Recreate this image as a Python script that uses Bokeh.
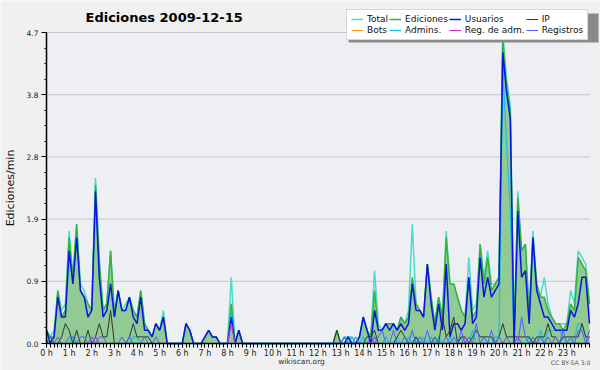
from bokeh.plotting import figure
from bokeh.models import (FixedTicker, PrintfTickFormatter, Legend, LegendItem,
                          Label, ColumnDataSource, BoxAnnotation)
from bokeh.embed import file_html
from bokeh.resources import INLINE

# time stamps (minutes since 0h), one every 10 minutes
minutes = [m for m in range(0, 1441, 10)]

# edits per minute (6 values per hour)
total = [
    0.2, 0.1, 0.2, 0.8, 0.5, 0.6,
    1.7, 1.0, 1.8, 0.9, 0.8, 0.6,
    0.5, 2.5, 1.3, 0.5, 0.6, 1.4,
    0.5, 0.8, 0.5, 0.6, 0.7, 0.5,
    0.4, 0.8, 0.3, 0.2, 0.1, 0.3,
    0.2, 0.5, 0.0, 0.0, 0.0, 0.0,
    0.0, 0.3, 0.2, 0.0, 0.0, 0.0,
    0.1, 0.2, 0.1, 0.1, 0.0, 0.0,
    0.0, 1.0, 0.0, 0.2, 0.0, 0.0,
    0.0, 0.0, 0.0, 0.0, 0.0, 0.0,
    0.0, 0.0, 0.0, 0.0, 0.0, 0.0,
    0.0, 0.0, 0.0, 0.0, 0.0, 0.0,
    0.0, 0.0, 0.0, 0.0, 0.0, 0.2,
    0.0, 0.1, 0.1, 0.1, 0.0, 0.1,
    0.4, 0.2, 0.1, 1.1, 0.3, 0.2,
    0.3, 0.3, 0.3, 0.2, 0.4, 0.3,
    0.5, 1.8, 0.6, 0.5, 0.4, 1.2,
    0.7, 0.3, 0.7, 0.4, 1.7, 0.9,
    0.9, 0.7, 0.5, 0.4, 1.3, 0.5,
    0.6, 1.5, 1.0, 1.4, 0.9, 0.9,
    1.0, 4.7, 4.0, 3.6, 0.1, 2.3,
    1.4, 1.5, 0.5, 1.7, 0.9, 0.7,
    1.0, 0.6, 0.4, 0.3, 0.3, 0.3,
    0.3, 0.8, 0.6, 1.4, 1.3, 1.2,
    0.6]

ediciones = [
    0.2, 0.1, 0.1, 0.8, 0.4, 0.5,
    1.6, 1.0, 1.8, 0.8, 0.7, 0.6,
    0.5, 2.4, 1.2, 0.5, 0.6, 1.4,
    0.4, 0.8, 0.5, 0.5, 0.7, 0.5,
    0.4, 0.8, 0.3, 0.2, 0.1, 0.3,
    0.2, 0.4, 0.0, 0.0, 0.0, 0.0,
    0.0, 0.3, 0.2, 0.0, 0.0, 0.0,
    0.1, 0.2, 0.1, 0.1, 0.0, 0.0,
    0.0, 0.6, 0.0, 0.2, 0.0, 0.0,
    0.0, 0.0, 0.0, 0.0, 0.0, 0.0,
    0.0, 0.0, 0.0, 0.0, 0.0, 0.0,
    0.0, 0.0, 0.0, 0.0, 0.0, 0.0,
    0.0, 0.0, 0.0, 0.0, 0.0, 0.2,
    0.0, 0.0, 0.1, 0.0, 0.0, 0.1,
    0.4, 0.2, 0.1, 0.8, 0.2, 0.2,
    0.3, 0.3, 0.3, 0.2, 0.4, 0.3,
    0.4, 1.0, 0.6, 0.5, 0.4, 1.2,
    0.7, 0.3, 0.7, 0.4, 1.6, 0.9,
    0.9, 0.7, 0.5, 0.4, 1.0, 0.4,
    0.5, 1.5, 0.9, 1.3, 0.8, 0.9,
    1.0, 4.6, 3.9, 3.5, 0.1, 2.2,
    1.4, 1.5, 0.4, 1.6, 0.9, 0.7,
    0.7, 0.5, 0.4, 0.3, 0.3, 0.2,
    0.3, 0.6, 0.5, 1.3, 1.2, 1.1,
    0.6]

usuarios = [
    0.2, 0.0, 0.1, 0.7, 0.4, 0.4,
    1.4, 0.9, 1.6, 0.8, 0.7, 0.4,
    0.5, 2.3, 1.0, 0.4, 0.5, 0.9,
    0.4, 0.8, 0.5, 0.5, 0.7, 0.4,
    0.3, 0.7, 0.2, 0.2, 0.1, 0.3,
    0.2, 0.4, 0.0, 0.0, 0.0, 0.0,
    0.0, 0.3, 0.2, 0.0, 0.0, 0.0,
    0.1, 0.2, 0.1, 0.1, 0.0, 0.0,
    0.0, 0.4, 0.0, 0.2, 0.0, 0.0,
    0.0, 0.0, 0.0, 0.0, 0.0, 0.0,
    0.0, 0.0, 0.0, 0.0, 0.0, 0.0,
    0.0, 0.0, 0.0, 0.0, 0.0, 0.0,
    0.0, 0.0, 0.0, 0.0, 0.0, 0.0,
    0.0, 0.0, 0.1, 0.0, 0.0, 0.1,
    0.4, 0.2, 0.0, 0.5, 0.2, 0.2,
    0.3, 0.2, 0.3, 0.2, 0.3, 0.2,
    0.3, 0.9, 0.5, 0.5, 0.4, 1.2,
    0.6, 0.2, 0.6, 0.2, 1.2, 0.1,
    0.3, 0.3, 0.2, 0.3, 1.0, 0.3,
    0.4, 1.3, 0.7, 1.0, 0.7, 0.8,
    0.9, 4.4, 3.8, 3.4, 0.0, 2.0,
    1.0, 1.1, 0.3, 1.6, 0.8, 0.6,
    0.4, 0.4, 0.3, 0.2, 0.2, 0.2,
    0.2, 0.5, 0.4, 0.6, 1.0, 1.0,
    0.3]

ip = [
    0.0, 0.1, 0.0, 0.0, 0.1, 0.3,
    0.2, 0.0, 0.2, 0.0, 0.0, 0.2,
    0.0, 0.1, 0.3, 0.1, 0.1, 0.5,
    0.0, 0.0, 0.0, 0.0, 0.1, 0.3,
    0.1, 0.1, 0.1, 0.1, 0.0, 0.0,
    0.0, 0.0, 0.0, 0.0, 0.0, 0.0,
    0.0, 0.0, 0.0, 0.0, 0.0, 0.0,
    0.0, 0.0, 0.0, 0.0, 0.0, 0.0,
    0.0, 0.0, 0.0, 0.0, 0.0, 0.0,
    0.0, 0.0, 0.0, 0.0, 0.0, 0.0,
    0.0, 0.0, 0.0, 0.0, 0.0, 0.0,
    0.0, 0.0, 0.0, 0.0, 0.0, 0.0,
    0.0, 0.0, 0.0, 0.0, 0.0, 0.2,
    0.0, 0.0, 0.0, 0.0, 0.0, 0.0,
    0.0, 0.1, 0.1, 0.2, 0.0, 0.0,
    0.0, 0.0, 0.0, 0.1, 0.2, 0.1,
    0.0, 0.0, 0.1, 0.0, 0.0, 0.0,
    0.0, 0.1, 0.0, 0.4, 0.1, 0.2,
    0.4, 0.0, 0.1, 0.1, 0.0, 0.1,
    0.2, 0.1, 0.1, 0.1, 0.1, 0.0,
    0.1, 0.3, 0.1, 0.1, 0.1, 0.1,
    0.1, 0.1, 0.1, 0.0, 0.1, 0.1,
    0.1, 0.3, 0.1, 0.1, 0.0, 0.1,
    0.1, 0.1, 0.1, 0.1, 0.3, 0.1,
    0.1]

bots = [
    0.0, 0.0, 0.0, 0.0, 0.0, 0.0,
    0.0, 0.0, 0.0, 0.0, 0.0, 0.0,
    0.0, 0.0, 0.0, 0.0, 0.0, 0.0,
    0.0, 0.0, 0.0, 0.0, 0.0, 0.0,
    0.0, 0.0, 0.0, 0.0, 0.0, 0.0,
    0.0, 0.0, 0.0, 0.0, 0.0, 0.0,
    0.0, 0.0, 0.0, 0.0, 0.0, 0.0,
    0.0, 0.0, 0.0, 0.0, 0.0, 0.0,
    0.0, 0.0, 0.0, 0.0, 0.0, 0.0,
    0.0, 0.0, 0.0, 0.0, 0.0, 0.0,
    0.0, 0.0, 0.0, 0.0, 0.0, 0.0,
    0.0, 0.0, 0.0, 0.0, 0.0, 0.0,
    0.0, 0.0, 0.0, 0.0, 0.0, 0.0,
    0.0, 0.0, 0.0, 0.0, 0.0, 0.0,
    0.0, 0.0, 0.0, 0.0, 0.0, 0.0,
    0.0, 0.0, 0.0, 0.0, 0.0, 0.0,
    0.0, 0.0, 0.0, 0.0, 0.0, 0.0,
    0.0, 0.0, 0.0, 0.0, 0.0, 0.0,
    0.0, 0.0, 0.0, 0.0, 0.0, 0.0,
    0.0, 0.0, 0.0, 0.0, 0.0, 0.0,
    0.0, 0.0, 0.0, 0.0, 0.0, 0.0,
    0.0, 0.0, 0.0, 0.0, 0.0, 0.0,
    0.0, 0.0, 0.0, 0.0, 0.0, 0.0,
    0.0, 0.0, 0.0, 0.0, 0.0, 0.0,
    0.0]

admins = [
    0.0, 0.0, 0.0, 0.0, 0.0, 0.0,
    0.0, 0.1, 0.0, 0.0, 0.0, 0.0,
    0.0, 0.1, 0.0, 0.0, 0.0, 0.0,
    0.0, 0.0, 0.0, 0.0, 0.0, 0.1,
    0.1, 0.0, 0.0, 0.0, 0.0, 0.0,
    0.0, 0.0, 0.0, 0.0, 0.0, 0.0,
    0.0, 0.0, 0.0, 0.0, 0.0, 0.0,
    0.0, 0.0, 0.0, 0.0, 0.0, 0.0,
    0.0, 0.5, 0.0, 0.0, 0.0, 0.0,
    0.0, 0.0, 0.0, 0.0, 0.0, 0.0,
    0.0, 0.0, 0.0, 0.0, 0.0, 0.0,
    0.0, 0.0, 0.0, 0.0, 0.0, 0.0,
    0.0, 0.0, 0.0, 0.0, 0.0, 0.0,
    0.0, 0.1, 0.0, 0.1, 0.0, 0.0,
    0.1, 0.0, 0.0, 0.1, 0.0, 0.0,
    0.1, 0.0, 0.0, 0.1, 0.0, 0.0,
    0.1, 0.0, 0.1, 0.0, 0.1, 0.0,
    0.1, 0.0, 0.1, 0.0, 0.0, 0.1,
    0.0, 0.0, 0.1, 0.0, 0.0, 0.2,
    0.0, 0.0, 0.1, 0.0, 0.0, 0.1,
    0.1, 4.2, 3.0, 2.0, 0.0, 0.1,
    0.0, 0.0, 0.1, 0.0, 0.0, 0.2,
    0.0, 0.2, 0.2, 0.2, 0.2, 0.1,
    0.0, 0.0, 0.1, 0.3, 0.3, 0.1,
    0.0]

reg_adm = [
    0.0, 0.0, 0.0, 0.0, 0.0, 0.0,
    0.0, 0.0, 0.0, 0.0, 0.0, 0.0,
    0.0, 0.1, 0.0, 0.0, 0.0, 0.0,
    0.0, 0.0, 0.0, 0.0, 0.0, 0.0,
    0.0, 0.0, 0.0, 0.0, 0.0, 0.0,
    0.0, 0.0, 0.0, 0.0, 0.0, 0.0,
    0.0, 0.0, 0.0, 0.0, 0.0, 0.0,
    0.0, 0.0, 0.0, 0.0, 0.0, 0.0,
    0.0, 0.3, 0.0, 0.0, 0.0, 0.0,
    0.0, 0.0, 0.0, 0.0, 0.0, 0.0,
    0.0, 0.0, 0.0, 0.0, 0.0, 0.0,
    0.0, 0.0, 0.0, 0.0, 0.0, 0.0,
    0.0, 0.0, 0.0, 0.0, 0.0, 0.0,
    0.0, 0.0, 0.0, 0.0, 0.0, 0.0,
    0.0, 0.0, 0.0, 0.1, 0.0, 0.0,
    0.0, 0.0, 0.0, 0.0, 0.0, 0.0,
    0.0, 0.0, 0.0, 0.0, 0.0, 0.0,
    0.0, 0.0, 0.0, 0.0, 0.0, 0.0,
    0.0, 0.0, 0.0, 0.1, 0.0, 0.0,
    0.0, 0.0, 0.0, 0.0, 0.0, 0.0,
    0.0, 0.0, 0.0, 0.0, 0.0, 0.1,
    0.0, 0.0, 0.0, 0.0, 0.0, 0.0,
    0.0, 0.0, 0.0, 0.0, 0.0, 0.0,
    0.0, 0.0, 0.0, 0.0, 0.0, 0.0,
    0.1]

registros = [
    0.0, 0.1, 0.0, 0.1, 0.0, 0.0,
    0.1, 0.1, 0.0, 0.1, 0.1, 0.0,
    0.1, 0.0, 0.1, 0.1, 0.0, 0.0,
    0.0, 0.0, 0.1, 0.0, 0.1, 0.0,
    0.0, 0.0, 0.1, 0.0, 0.0, 0.1,
    0.0, 0.0, 0.0, 0.0, 0.0, 0.0,
    0.0, 0.0, 0.0, 0.0, 0.0, 0.0,
    0.0, 0.0, 0.0, 0.0, 0.0, 0.0,
    0.0, 0.3, 0.0, 0.0, 0.0, 0.0,
    0.0, 0.0, 0.0, 0.0, 0.0, 0.0,
    0.0, 0.0, 0.0, 0.0, 0.0, 0.0,
    0.0, 0.0, 0.0, 0.0, 0.0, 0.0,
    0.0, 0.0, 0.0, 0.0, 0.0, 0.0,
    0.0, 0.1, 0.0, 0.0, 0.1, 0.0,
    0.0, 0.0, 0.1, 0.0, 0.1, 0.2,
    0.0, 0.0, 0.2, 0.0, 0.0, 0.1,
    0.0, 0.2, 0.0, 0.1, 0.0, 0.2,
    0.0, 0.1, 0.0, 0.0, 0.1, 0.0,
    0.1, 0.0, 0.2, 0.0, 0.1, 0.0,
    0.3, 0.0, 0.1, 0.0, 0.2, 0.0,
    0.1, 0.0, 0.1, 0.0, 0.0, 0.0,
    0.4, 0.1, 0.0, 0.1, 0.0, 0.1,
    0.0, 0.1, 0.0, 0.1, 0.0, 0.2,
    0.0, 0.1, 0.0, 0.2, 0.2, 0.0,
    0.2]

hour_ticks = list(range(24))
hour_labels = {h: f"{h} h" for h in hour_ticks}
x_max = 24
y_max = 4.7
y_ticks = [0.0, 0.94, 1.88, 2.82, 3.76, 4.7]
y_minor = [0.235 * k for k in range(21)]

hours = [m / 60 for m in minutes]
src = ColumnDataSource(dict(x=hours, total=total, ed=ediciones, us=usuarios,
                            ip=ip, bots=bots, adm=admins, radm=reg_adm,
                            reg=registros, zero=[0.0] * len(hours)))

FONT = "DejaVu Sans"

# the frame fills the whole figure; the plot area (0..24 h x 0..4.7)
# occupies pixels 46..589 x 32..343 of it
W, H = 600, 370
AREA_L, AREA_R, AREA_T, AREA_B = 46, 589, 32, 343
px_per_h = (AREA_R - AREA_L) / x_max
px_per_u = (AREA_B - AREA_T) / y_max
x_start = -AREA_L / px_per_h
x_end = x_max + (W - AREA_R) / px_per_h
y_end = y_max + AREA_T / px_per_u
y_start = -(H - AREA_B) / px_per_u

p = figure(width=W, height=H, x_range=(x_start, x_end), y_range=(y_start, y_end),
           output_backend="svg", toolbar_location=None,
           min_border_left=0, min_border_right=0, min_border_top=0,
           min_border_bottom=0,
           background_fill_color="#f0f0f0", border_fill_color="#f0f0f0")
p.outline_line_color = None
p.xgrid.visible = False
p.ygrid.visible = False

# plot-area background
p.add_layout(BoxAnnotation(left=0, right=x_max, bottom=0, top=y_max,
                           fill_color="#edeff2", fill_alpha=1, line_color=None,
                           level="underlay"))

# horizontal grid lines at the y ticks, limited to the plot area
gsrc = ColumnDataSource(dict(y=y_ticks, x0=[0] * len(y_ticks),
                             x1=[x_max] * len(y_ticks)))
p.segment(x0="x0", x1="x1", y0="y", y1="y", source=gsrc,
          line_color="#c6c6c6", line_width=1)

# axes (drawn at the data origin, inside the frame)
xa = p.xaxis[0]
xa.fixed_location = 0
xa.bounds = (0, x_max)
xa.ticker = FixedTicker(ticks=hour_ticks, minor_ticks=hours)
xa.major_label_overrides = hour_labels
xa.major_tick_out = 4
xa.major_tick_in = 0
xa.minor_tick_out = 4
xa.minor_tick_in = 0
xa.major_label_standoff = 1
xa.axis_line_width = 1.5
xa.major_label_text_font = FONT
xa.major_label_text_font_size = "8px"
xa.major_label_text_color = "#222222"

ya = p.yaxis[0]
ya.fixed_location = 0
ya.bounds = (0, y_max)
ya.ticker = FixedTicker(ticks=y_ticks, minor_ticks=y_minor)
ya.formatter = PrintfTickFormatter(format="%.1f")
ya.major_tick_out = 5
ya.major_tick_in = 0
ya.minor_tick_out = 2
ya.minor_tick_in = 0
ya.major_label_standoff = 3
ya.axis_line_width = 1.5
ya.major_label_text_font = FONT
ya.major_label_text_font_size = "7.5px"
ya.major_label_text_color = "#222222"
ya.axis_label = "Ediciones/min"
ya.axis_label_text_font = FONT
ya.axis_label_text_font_style = "normal"
ya.axis_label_text_font_size = "11px"
ya.axis_label_text_color = "#111111"
ya.axis_label_standoff = 7

# series
r_bots = p.line("x", "bots", source=src, line_color="#ff9a1a", line_width=1)
p.varea(x="x", y1="zero", y2="ed", source=src, fill_color="#8cc78c", fill_alpha=0.95)
r_total = p.line("x", "total", source=src, line_color="#48dccf", line_width=1.5)
r_ed = p.line("x", "ed", source=src, line_color="#36b236", line_width=1.5)
r_adm = p.line("x", "adm", source=src, line_color="#14c4e4", line_width=1.2)
r_us = p.line("x", "us", source=src, line_color="#0a14e6", line_width=1.5)
r_ip = p.line("x", "ip", source=src, line_color="#333333", line_width=1)
r_reg = p.line("x", "reg", source=src, line_color="#5a5aff", line_width=1)
r_radm = p.line("x", "radm", source=src, line_color="#cc2ccc", line_width=1)

# legend shadow
p.add_layout(BoxAnnotation(left=348, right=598, bottom=H - 42, top=H - 13,
                           left_units="screen", right_units="screen",
                           top_units="screen", bottom_units="screen",
                           fill_color="#8a8a8a", fill_alpha=1, line_color=None))

legend = Legend(items=[
    LegendItem(label="Total", renderers=[r_total]),
    LegendItem(label="Ediciones", renderers=[r_ed]),
    LegendItem(label="Usuarios", renderers=[r_us]),
    LegendItem(label="IP", renderers=[r_ip]),
    LegendItem(label="Bots", renderers=[r_bots]),
    LegendItem(label="Admins.", renderers=[r_adm]),
    LegendItem(label="Reg. de adm.", renderers=[r_radm]),
    LegendItem(label="Registros", renderers=[r_reg]),
], location=(346, H - 40), orientation="horizontal", ncols=4,
    label_text_font=FONT, label_text_font_size="9px",
    label_text_color="#111111",
    glyph_width=12, glyph_height=8, label_height=8, label_standoff=4,
    spacing=1, padding=4, margin=0,
    border_line_color="#b0b0b0", border_line_width=1,
    background_fill_color="white", background_fill_alpha=1)
p.add_layout(legend)

# texts
p.add_layout(Label(x=85, y=H - 17, x_units="screen", y_units="screen",
                   text="Ediciones  2009-12-15", text_font=FONT,
                   text_font_style="bold", text_font_size="13px",
                   text_baseline="middle", text_align="left", text_color="#000000"))
p.add_layout(Label(x=301, y=H - 361, x_units="screen", y_units="screen",
                   text="wikiscan.org", text_font=FONT, text_font_size="7.5px",
                   text_baseline="middle", text_align="center", text_color="#333333"))
p.add_layout(Label(x=590, y=H - 362, x_units="screen", y_units="screen",
                   text="CC BY-SA 3.0", text_font=FONT, text_font_size="6.2px",
                   text_baseline="middle", text_align="right", text_color="#555555"))

open("out.html", "w").write(file_html(p, INLINE))
